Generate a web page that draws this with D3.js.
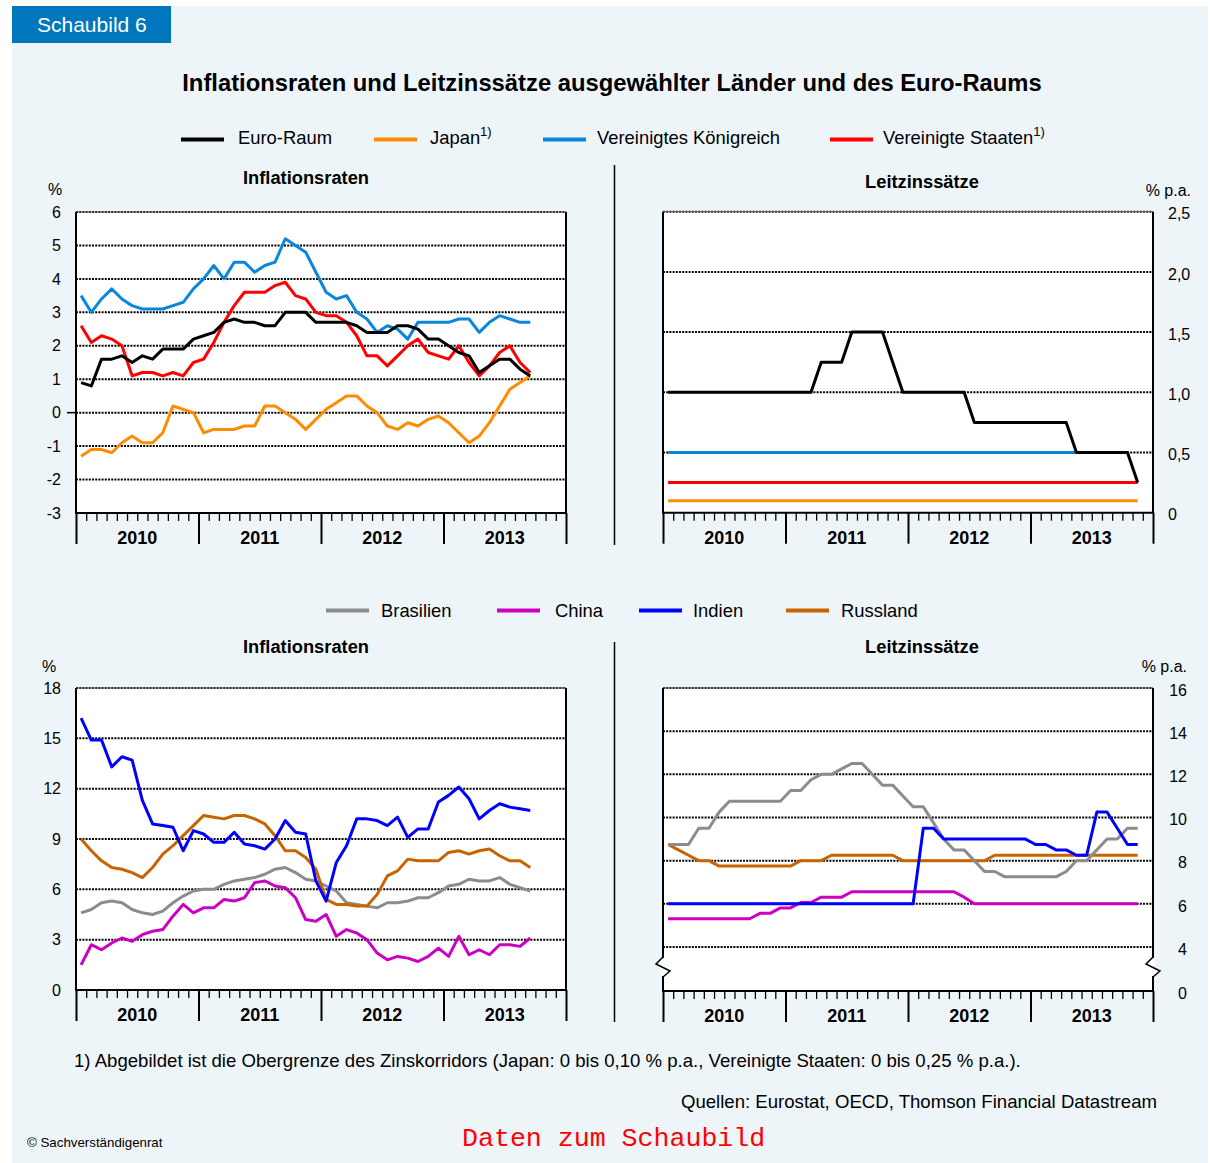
<!DOCTYPE html>
<html><head><meta charset="utf-8">
<script src="https://cdn.jsdelivr.net/npm/d3@7"></script>
<style>
body{margin:0;background:#fff}
svg{display:block}
text{font-family:"Liberation Sans",Arial,Helvetica,sans-serif}
</style>
</head><body>
<svg id="c" width="1210" height="1163"></svg>
<script>
// ---------------- DATA ----------------
const years = ["2010","2011","2012","2013"];

// Top: Inflationsraten (monthly, Jan 2010 - Sep 2013), %
const euroInfl = [0.9,0.8,1.6,1.6,1.7,1.5,1.7,1.6,1.9,1.9,1.9,2.2, 2.3,2.4,2.7,2.8,2.7,2.7,2.6,2.6,3.0,3.0,3.0,2.7, 2.7,2.7,2.7,2.6,2.4,2.4,2.4,2.6,2.6,2.5,2.2,2.2, 2.0,1.8,1.7,1.2,1.4,1.6,1.6,1.3,1.1];
const jpInfl   = [-1.3,-1.1,-1.1,-1.2,-0.9,-0.7,-0.9,-0.9,-0.6,0.2,0.1,0.0, -0.6,-0.5,-0.5,-0.5,-0.4,-0.4,0.2,0.2,0.0,-0.2,-0.5,-0.2, 0.1,0.3,0.5,0.5,0.2,0.0,-0.4,-0.5,-0.3,-0.4,-0.2,-0.1, -0.3,-0.6,-0.9,-0.7,-0.3,0.2,0.7,0.9,1.1];
const ukInfl   = [3.5,3.0,3.4,3.7,3.4,3.2,3.1,3.1,3.1,3.2,3.3,3.7, 4.0,4.4,4.0,4.5,4.5,4.2,4.4,4.5,5.2,5.0,4.8,4.2, 3.6,3.4,3.5,3.0,2.8,2.4,2.6,2.5,2.2,2.7,2.7,2.7, 2.7,2.8,2.8,2.4,2.7,2.9,2.8,2.7,2.7];
const usInfl   = [2.6,2.1,2.3,2.2,2.0,1.1,1.2,1.2,1.1,1.2,1.1,1.5, 1.6,2.1,2.7,3.2,3.6,3.6,3.6,3.8,3.9,3.5,3.4,3.0, 2.9,2.9,2.7,2.3,1.7,1.7,1.4,1.7,2.0,2.2,1.8,1.7, 1.6,2.0,1.5,1.1,1.4,1.8,2.0,1.5,1.2];

// Top: Leitzinssätze (monthly, Jan 2010 - Nov 2013), % p.a.
const euroRate = [1,1,1,1,1,1,1,1,1,1,1,1, 1,1,1,1.25,1.25,1.25,1.5,1.5,1.5,1.5,1.25,1, 1,1,1,1,1,1,0.75,0.75,0.75,0.75,0.75,0.75, 0.75,0.75,0.75,0.75,0.5,0.5,0.5,0.5,0.5,0.5,0.25];
const jpRate   = [0.1,0.1,0.1,0.1,0.1,0.1,0.1,0.1,0.1,0.1,0.1,0.1, 0.1,0.1,0.1,0.1,0.1,0.1,0.1,0.1,0.1,0.1,0.1,0.1, 0.1,0.1,0.1,0.1,0.1,0.1,0.1,0.1,0.1,0.1,0.1,0.1, 0.1,0.1,0.1,0.1,0.1,0.1,0.1,0.1,0.1,0.1,0.1];
const ukRate   = [0.5,0.5,0.5,0.5,0.5,0.5,0.5,0.5,0.5,0.5,0.5,0.5, 0.5,0.5,0.5,0.5,0.5,0.5,0.5,0.5,0.5,0.5,0.5,0.5, 0.5,0.5,0.5,0.5,0.5,0.5,0.5,0.5,0.5,0.5,0.5,0.5, 0.5,0.5,0.5,0.5,0.5,0.5,0.5,0.5,0.5,0.5];
const usRate   = [0.25,0.25,0.25,0.25,0.25,0.25,0.25,0.25,0.25,0.25,0.25,0.25, 0.25,0.25,0.25,0.25,0.25,0.25,0.25,0.25,0.25,0.25,0.25,0.25, 0.25,0.25,0.25,0.25,0.25,0.25,0.25,0.25,0.25,0.25,0.25,0.25, 0.25,0.25,0.25,0.25,0.25,0.25,0.25,0.25,0.25,0.25,0.25];

// Bottom: Inflationsraten (monthly, Jan 2010 - Sep 2013), %
const brInfl = [4.6,4.8,5.2,5.3,5.2,4.8,4.6,4.5,4.7,5.2,5.6,5.9, 6.0,6.0,6.3,6.5,6.6,6.7,6.9,7.2,7.3,7.0,6.6,6.5, 6.2,5.9,5.2,5.1,5.0,4.9,5.2,5.2,5.3,5.5,5.5,5.8, 6.2,6.3,6.6,6.5,6.5,6.7,6.3,6.1,5.9];
const cnInfl = [1.5,2.7,2.4,2.8,3.1,2.9,3.3,3.5,3.6,4.4,5.1,4.6, 4.9,4.9,5.4,5.3,5.5,6.4,6.5,6.2,6.1,5.5,4.2,4.1, 4.5,3.2,3.6,3.4,3.0,2.2,1.8,2.0,1.9,1.7,2.0,2.5, 2.0,3.2,2.1,2.4,2.1,2.7,2.7,2.6,3.1];
const inInfl = [16.2,14.9,14.9,13.3,13.9,13.7,11.3,9.9,9.8,9.7,8.3,9.5, 9.3,8.8,8.8,9.4,8.7,8.6,8.4,9.0,10.1,9.4,9.3,6.5, 5.3,7.6,8.6,10.2,10.2,10.1,9.8,10.3,9.1,9.6,9.6,11.2, 11.6,12.1,11.4,10.2,10.7,11.1,10.9,10.8,10.7];
const ruInfl = [9.0,8.3,7.7,7.3,7.2,7.0,6.7,7.3,8.1,8.6,9.2,9.8, 10.4,10.3,10.2,10.4,10.4,10.2,9.9,9.2,8.3,8.3,7.9,7.2, 5.4,5.1,5.1,5.0,5.0,5.7,6.8,7.1,7.8,7.7,7.7,7.7, 8.2,8.3,8.1,8.3,8.4,8.0,7.7,7.7,7.3];

// Bottom: Leitzinssätze (monthly, Jan 2010 - Nov 2013), % p.a.
const brRate = [8.75,8.75,8.75,9.5,9.5,10.25,10.75,10.75,10.75,10.75,10.75,10.75, 11.25,11.25,11.75,12,12,12.25,12.5,12.5,12,11.5,11.5,11, 10.5,10.5,9.75,9,8.5,8.5,8,7.5,7.5,7.25,7.25,7.25, 7.25,7.25,7.25,7.5,8,8,8.5,9,9,9.5,9.5];
const cnRate = [5.31,5.31,5.31,5.31,5.31,5.31,5.31,5.31,5.31,5.56,5.56,5.81, 5.81,6.06,6.06,6.31,6.31,6.31,6.56,6.56,6.56,6.56,6.56,6.56, 6.56,6.56,6.56,6.56,6.56,6.31,6,6,6,6,6,6, 6,6,6,6,6,6,6,6,6,6,6];
const inRate = [6,6,6,6,6,6,6,6,6,6,6,6, 6,6,6,6,6,6,6,6,6,6,6,6, 6,9.5,9.5,9,9,9,9,9,9,9,9,9, 8.75,8.75,8.5,8.5,8.25,8.25,10.25,10.25,9.5,8.75,8.75];
const ruRate = [8.75,8.5,8.25,8,8,7.75,7.75,7.75,7.75,7.75,7.75,7.75, 7.75,8,8,8,8.25,8.25,8.25,8.25,8.25,8.25,8.25,8, 8,8,8,8,8,8,8,8,8.25,8.25,8.25,8.25, 8.25,8.25,8.25,8.25,8.25,8.25,8.25,8.25,8.25,8.25,8.25];

const ticksTL = [-3,-2,-1,0,1,2,3,4,5,6];
const ticksTR = [0,0.5,1,1.5,2,2.5];
const ticksBL = [0,3,6,9,12,15,18];
const ticksBR = [0,4,6,8,10,12,14,16];

const legendTop = ["Euro-Raum","Japan","Vereinigtes Königreich","Vereinigte Staaten"];
const legendBottom = ["Brasilien","China","Indien","Russland"];

// ---------------- STYLE ----------------
const C = {euro:"#000000", jp:"#FF8C00", uk:"#0A86DC", us:"#FF0000",
           br:"#8C8C8C", cn:"#CC00C0", in:"#0000FF", ru:"#C86400"};
const svg = d3.select("#c");

svg.append("rect").attr("x",12).attr("y",6).attr("width",1196).attr("height",1157).attr("fill","#EEF5F9");
svg.append("rect").attr("x",12).attr("y",6).attr("width",159).attr("height",37).attr("fill","#0077BD");
svg.append("text").attr("x",37).attr("y",32).attr("fill","#fff").attr("font-size",21).text("Schaubild 6");

svg.append("text").attr("x",612).attr("y",91).attr("text-anchor","middle").attr("font-size",23.8)
  .attr("font-weight","bold").text("Inflationsraten und Leitzinssätze ausgewählter Länder und des Euro-Raums");

function legend(items, colors, sups, lx, tx, ly, ty){
  items.forEach((t,i)=>{
    svg.append("line").attr("x1",lx[i]).attr("x2",lx[i]+43).attr("y1",ly).attr("y2",ly)
      .attr("stroke",colors[i]).attr("stroke-width",4);
    const tt = svg.append("text").attr("x",tx[i]).attr("y",ty).attr("font-size",18.4).text(t);
    if (sups[i]) tt.append("tspan").attr("font-size",13).attr("dy",-8).text(sups[i]);
  });
}
legend(legendTop, [C.euro,C.jp,C.uk,C.us], ["","1)","","1)"], [181,374,543,830],[238,430,597,883],139.5,144);
legend(legendBottom, [C.br,C.cn,C.in,C.ru], ["","","",""], [326,497,639,786],[381,555,693,841],610.5,617);

// separators
svg.append("line").attr("x1",614.5).attr("x2",614.5).attr("y1",165).attr("y2",545).attr("stroke","#000").attr("stroke-width",1.5);
svg.append("line").attr("x1",614.5).attr("x2",614.5).attr("y1",642).attr("y2",1022).attr("stroke","#000").attr("stroke-width",1.5);

function panel(o){
  const g = svg.append("g");
  const x = d3.scaleLinear().domain([0,48]).range([o.x0,o.x1]);
  const y = o.y;
  const yTop = y.range()[y.range().length-1], yBot = y.range()[0];
  g.append("rect").attr("x",o.x0).attr("y",yTop).attr("width",o.x1-o.x0).attr("height",yBot-yTop).attr("fill","#fff");
  // gridlines (dotted)
  const grid = o.ticks.filter(v=>v!==o.ticks[0]);
  g.selectAll(".grid").data(grid).join("line")
    .attr("x1",o.x0).attr("x2",o.x1).attr("y1",d=>y(d)).attr("y2",d=>y(d))
    .attr("stroke","#000").attr("stroke-width",2).attr("stroke-dasharray","2,1.2");
  if (o.zeroTick) {
    g.append("line").attr("x1",o.x0-9).attr("x2",o.x0).attr("y1",y(0)).attr("y2",y(0)).attr("stroke","#000").attr("stroke-width",1.6);
  }
  // series
  const line = d3.line().x((d,i)=>x(i+0.5)).y(d=>y(d));
  o.series.forEach(s=>{
    g.append("path").datum(s.values).attr("d",line).attr("fill","none")
      .attr("stroke",s.color).attr("stroke-width",3).attr("stroke-linejoin","round").attr("stroke-linecap","butt");
  });
  // frame
  g.append("line").attr("x1",o.x0).attr("x2",o.x1).attr("y1",yTop).attr("y2",yTop).attr("stroke","#666").attr("stroke-width",1);
  g.append("path").attr("d",`M${o.x0},${yTop}V${yBot}H${o.x1}V${yTop}`).attr("fill","none").attr("stroke","#000").attr("stroke-width",2);
  // x axis: month ticks and year dividers
  const ax1 = d3.axisBottom(x).tickValues(d3.range(1,48).filter(v=>v%12)).tickSize(8).tickFormat("");
  const a1 = g.append("g").attr("transform",`translate(0,${yBot})`).call(ax1);
  a1.select(".domain").remove();
  a1.selectAll("line").attr("stroke","#000").attr("stroke-width",1.3);
  const ax2 = d3.axisBottom(x).tickValues([0,12,24,36,48]).tickSize(31).tickFormat("");
  const a2 = g.append("g").attr("transform",`translate(0,${yBot})`).call(ax2);
  a2.select(".domain").remove();
  a2.selectAll("line").attr("stroke","#000").attr("stroke-width",2);
  g.selectAll(".yr").data(years).join("text")
    .attr("x",(d,i)=>x(i*12+6)).attr("y",yBot+31).attr("text-anchor","middle")
    .attr("font-size",18).attr("font-weight","bold").text(d=>d);
  // y labels
  const yax = (o.side==="left"? d3.axisLeft(y) : d3.axisRight(y)).tickValues(o.ticks).tickSize(0).tickPadding(15).tickFormat(o.fmt);
  const ya = g.append("g").attr("transform",`translate(${o.side==="left"?o.x0:o.x1},0)`).call(yax);
  ya.select(".domain").remove();
  ya.selectAll("text").attr("font-size",16).attr("font-family",null).attr("fill","#000");
  if (o.labelEnd) ya.selectAll("text").attr("text-anchor","end").attr("x",o.labelEnd - o.x1);
  if (o.side!=="left") ya.selectAll("text").attr("dy","0.45em");
  // axis break
  if (o.breakAt!==undefined){
    const yb = y(o.breakAt) - 2;
    [o.x0,o.x1].forEach(xx=>{
      g.append("rect").attr("x",xx-2).attr("y",yb-9).attr("width",4).attr("height",18).attr("fill","#fff");
      g.append("path").attr("d",`M${xx},${yb-10}L${xx-7},${yb-3}L${xx+7},${yb+4}L${xx},${yb+10}`)
        .attr("fill","#fff").attr("stroke","#000").attr("stroke-width",1.5);
    });
  }
  return g;
}

const fmtDe = d3.format(".1f");
const deComma = v => v===0 ? "0" : fmtDe(v).replace(".",",");

panel({x0:76,x1:566,y:d3.scaleLinear().domain([-3,6]).range([513,212]),ticks:ticksTL,fmt:d=>String(d),side:"left",zeroTick:true,
  series:[{values:ukInfl,color:C.uk},{values:jpInfl,color:C.jp},{values:usInfl,color:C.us},{values:euroInfl,color:C.euro}]});
panel({x0:663,x1:1153,y:d3.scaleLinear().domain([0,2.5]).range([512.7,211.7]),ticks:ticksTR,fmt:deComma,side:"right",
  series:[{values:jpRate,color:C.jp},{values:usRate,color:C.us},{values:ukRate,color:C.uk},{values:euroRate,color:C.euro}]});
panel({x0:76,x1:566,y:d3.scaleLinear().domain([0,18]).range([990,688]),ticks:ticksBL,fmt:d=>String(d),side:"left",
  series:[{values:brInfl,color:C.br},{values:cnInfl,color:C.cn},{values:ruInfl,color:C.ru},{values:inInfl,color:C.in}]});
panel({x0:663,x1:1153,y:d3.scaleLinear().domain([0,4,16]).range([991,947,688]),ticks:ticksBR,fmt:d=>String(d),side:"right",labelEnd:1187,breakAt:2,
  series:[{values:cnRate,color:C.cn},{values:ruRate,color:C.ru},{values:brRate,color:C.br},{values:inRate,color:C.in}]});

// unit labels & subtitles
svg.append("text").attr("x",48).attr("y",195).attr("font-size",16).text("%");
svg.append("text").attr("x",1191).attr("y",196).attr("font-size",16).attr("text-anchor","end").text("% p.a.");
svg.append("text").attr("x",42).attr("y",672).attr("font-size",16).text("%");
svg.append("text").attr("x",1187).attr("y",672).attr("font-size",16).attr("text-anchor","end").text("% p.a.");
svg.append("text").attr("x",306).attr("y",183.5).attr("font-size",18.3).attr("font-weight","bold").attr("text-anchor","middle").text("Inflationsraten");
svg.append("text").attr("x",922).attr("y",187.5).attr("font-size",18.3).attr("font-weight","bold").attr("text-anchor","middle").text("Leitzinssätze");
svg.append("text").attr("x",306).attr("y",653).attr("font-size",18.3).attr("font-weight","bold").attr("text-anchor","middle").text("Inflationsraten");
svg.append("text").attr("x",922).attr("y",653).attr("font-size",18.3).attr("font-weight","bold").attr("text-anchor","middle").text("Leitzinssätze");

// footer
svg.append("text").attr("x",74).attr("y",1067).attr("font-size",18.6)
  .text("1) Abgebildet ist die Obergrenze des Zinskorridors (Japan: 0 bis 0,10 % p.a., Vereinigte Staaten: 0 bis 0,25 % p.a.).");
svg.append("text").attr("x",1157).attr("y",1108).attr("font-size",18.6).attr("text-anchor","end")
  .text("Quellen: Eurostat, OECD, Thomson Financial Datastream");
svg.append("text").attr("x",27).attr("y",1147).attr("font-size",13.3).text("© Sachverständigenrat");
svg.append("text").attr("x",462).attr("y",1146).attr("font-size",26.6).attr("fill","#FF0000")
  .style("font-family","'Liberation Mono','Courier New',monospace").text("Daten zum Schaubild");
</script>
</body></html>
